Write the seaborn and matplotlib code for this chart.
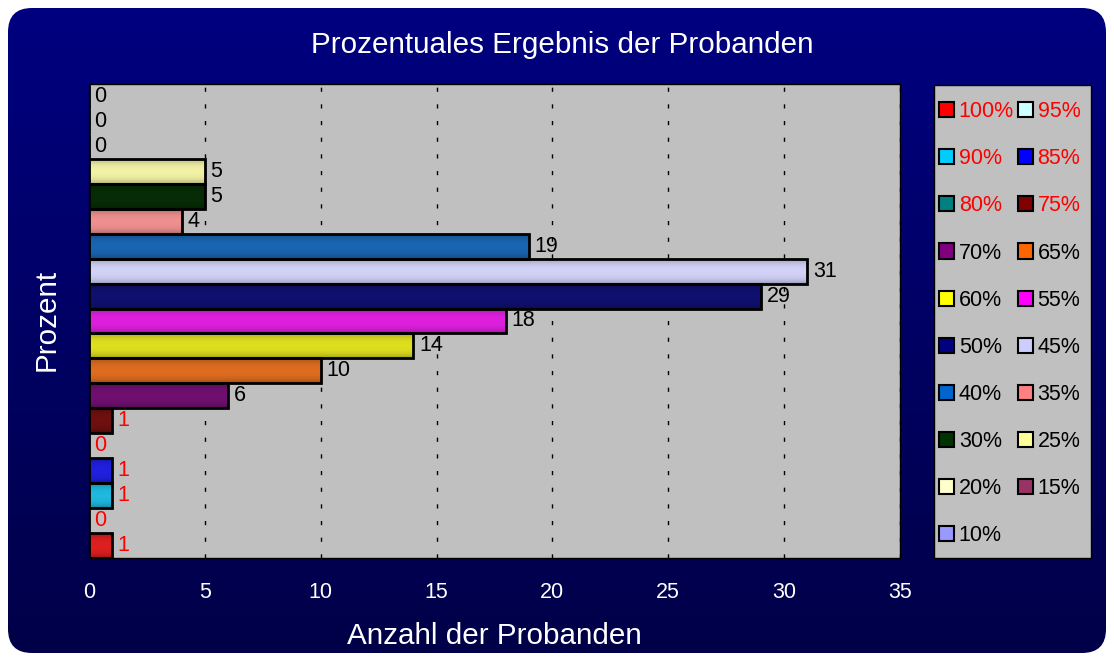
import numpy as np
import matplotlib
matplotlib.use("Agg")
import matplotlib.pyplot as plt
import seaborn as sns
from matplotlib.patches import FancyBboxPatch, Rectangle, Patch
from matplotlib.colors import to_rgb

# Daten (von oben nach unten wie im Diagramm)
kategorien = ["10%", "15%", "20%", "25%", "30%", "35%", "40%", "45%", "50%", "55%",
              "60%", "65%", "70%", "75%", "80%", "85%", "90%", "95%", "100%"]
anzahl = [0, 0, 0, 5, 5, 4, 19, 31, 29, 18, 14, 10, 6, 1, 0, 1, 1, 0, 1]
farben = ["#9999FF", "#993366", "#FFFFCC", "#FFFF99", "#003300", "#FF8080", "#0066CC",
          "#CCCCFF", "#000080", "#FF00FF", "#FFFF00", "#FF6600", "#800080", "#800000",
          "#008080", "#0000FF", "#00CCFF", "#CCFFFF", "#FF0000"]
rot_ab = ["75%", "80%", "85%", "90%", "95%", "100%"]

W, H = 1114, 659
plt.rcParams['font.family'] = ['Liberation Sans', 'DejaVu Sans']

fig = plt.figure(figsize=(W / 100, H / 100), dpi=100, facecolor='white')

# Hintergrund: abgerundetes Rechteck mit Verlauf
bg = fig.add_axes([0, 0, 1, 1], zorder=-10)
bg.set_xlim(0, W)
bg.set_ylim(H, 0)
bg.axis('off')
rahmen = FancyBboxPatch((8, 8), W - 16, H - 14, boxstyle="round,pad=0,rounding_size=24",
                        facecolor='none', edgecolor='none')
bg.add_patch(rahmen)
t = np.linspace(0, 1, 256)[:, None]
top, bot = np.array([0, 0, 128]) / 255, np.array([0, 0, 72]) / 255
grad = (top[None, None, :] * (1 - t[..., None]) + bot[None, None, :] * t[..., None])
grad = np.repeat(grad, 2, axis=1)
img = bg.imshow(grad, extent=[8, W - 8, H - 6, 8], aspect='auto')
img.set_clip_path(rahmen)

# Hauptdiagramm
ax = fig.add_axes([89 / W, 1 - 558 / H, (900 - 89) / W, (558 - 84) / H])
ax.set_facecolor('#C0C0C0')
sns.barplot(x=anzahl, y=kategorien, hue=kategorien, palette=farben, orient='h',
            legend=False, width=1.0, edgecolor='black', linewidth=2, ax=ax, zorder=3)

# Verlauf in den Balken (zylindrischer Effekt)
prof = np.linspace(0, 1, 64)
shade = 0.5 + 0.5 * np.sin(np.pi * prof) ** 0.3
for p in ax.patches:
    w = p.get_width()
    if w <= 0:
        continue
    c = np.array(to_rgb(p.get_facecolor()))
    g = np.clip(shade[:, None, None] * c[None, None, :], 0, 1)
    g = np.repeat(g, 2, axis=1)
    x0, y0, h = p.get_x(), p.get_y(), p.get_height()
    im = ax.imshow(g, extent=[x0, x0 + w, y0 + h, y0], aspect='auto', zorder=2.5,
                   interpolation='nearest')
    im.set_clip_path(p)
    p.set_facecolor('none')

for cont, kat in zip(ax.containers, kategorien):
    col = 'red' if kat in rot_ab else 'black'
    ax.bar_label(cont, padding=4, fontsize=15.5, color=col)

ax.set_xlim(0, 35)
ax.set_ylim(len(kategorien) - 0.5, -0.5)
ax.set_xticks(range(0, 36, 5))
ax.set_yticks([])
ax.set_ylabel("")
ax.tick_params(axis='x', colors='white', labelsize=15.5, length=0, pad=17)
for s in ax.spines.values():
    s.set_color('black')
    s.set_linewidth(1)
ax.grid(axis='x', color='black', linestyle=(0, (3, 9)), linewidth=1)
ax.grid(axis='y', visible=False)
ax.set_axisbelow(True)

fig.text(562 / W, 1 - 45 / H, "Prozentuales Ergebnis der Probanden", color='white',
         fontsize=21.3, ha='center', va='center')
fig.text(494 / W, 1 - 636 / H, "Anzahl der Probanden", color='white',
         fontsize=21.3, ha='center', va='center')
fig.text(47 / W, 1 - 320 / H, "Prozent", color='white', fontsize=21.3,
         ha='center', va='center', rotation=90)

# Legende
bg.add_patch(Rectangle((934, 85), 1091 - 934, 558 - 85, facecolor='#C0C0C0',
                       edgecolor='black', linewidth=1))
leg_kat = kategorien[::-1]
leg_col = farben[::-1]
reihenfolge = leg_kat[0::2] + leg_kat[1::2]
handles = [Patch(facecolor=leg_col[leg_kat.index(k)], edgecolor='black', linewidth=1.5)
           for k in reihenfolge]
leg = fig.legend(handles, reihenfolge, ncol=2, loc='upper left',
                 bbox_to_anchor=(920 / W, 1 - 82 / H), frameon=False, fontsize=15.5,
                 handlelength=0.7, handleheight=0.7, handletextpad=0.2,
                 columnspacing=0.2, labelspacing=1.21, borderpad=0.4)
for txt, k in zip(leg.get_texts(), reihenfolge):
    txt.set_color('red' if k in rot_ab else 'black')

fig.savefig("out.png", dpi=100, facecolor='white')
